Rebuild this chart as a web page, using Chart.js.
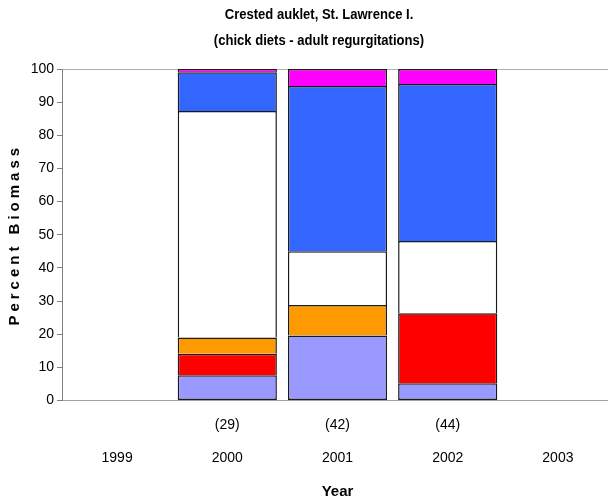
<!DOCTYPE html>
<html>
<head>
<meta charset="utf-8">
<title>Crested auklet, St. Lawrence I.</title>
<script src="https://cdn.jsdelivr.net/npm/chart.js@4/dist/chart.umd.min.js"></script>
<style>
  html, body { margin: 0; padding: 0; background: #fff; overflow: hidden; }
  #wrap { width: 608px; height: 503px; overflow: hidden; }
  canvas { display: block; }
</style>
</head>
<body>
<div id="wrap"><canvas id="chart" width="614" height="503"></canvas></div>
<script>
'use strict';

// ── Data (percent biomass) ──
const years = ['1999', '2000', '2001', '2002', '2003'];
const sampleSizes = ['', '(29)', '(42)', '(44)', ''];
const seriesA = [null, 7.6, 19.6, 5.2, null];   // lavender
const seriesB = [null, 6.5, null, 21.1, null];  // red
const seriesC = [null, 4.9, 9.2, null, null];   // orange
const seriesD = [null, 68.3, 16.2, 21.8, null]; // white
const seriesE = [null, 11.7, 49.9, 47.4, null]; // blue
const seriesF = [null, 1.0, 5.1, 4.5, null];    // magenta
const yTicks = [0, 10, 20, 30, 40, 50, 60, 70, 80, 90, 100];

const FONT = "'Liberation Sans', Arial, sans-serif";
const TITLE_LINES = ['Crested auklet, St. Lawrence I.', '(chick diets - adult regurgitations)'];
const Y_TITLE = 'Percent Biomass';

const COLORS = {
  lavender: '#9999FF',
  red:      '#FF0000',
  orange:   '#FF9900',
  white:    '#FFFFFF',
  blue:     '#3366FF',
  magenta:  '#FF00FF',
};

function seg(label, data, color, skip) {
  return {
    label: label,
    data: data,
    backgroundColor: color,
    borderColor: '#1a1a1a',
    borderWidth: 1.5,
    borderSkipped: skip,
    barPercentage: 0.9,
    categoryPercentage: 1.0,
  };
}

// ── Title (narrowed like the original) + letter-spaced y title ──
const textPlugin = {
  id: 'textPlugin',
  afterDraw(chart) {
    const ctx = chart.ctx;
    const area = chart.chartArea;
    ctx.save();
    ctx.fillStyle = '#000';
    ctx.textAlign = 'center';
    ctx.textBaseline = 'middle';
    ctx.font = 'bold 15px ' + FONT;
    [15, 41].forEach((y, i) => {
      ctx.save();
      ctx.translate(319, y);
      ctx.scale(0.87, 1);
      ctx.fillText(TITLE_LINES[i], 0, 0);
      ctx.restore();
    });

    ctx.translate(15, (area.top + area.bottom) / 2);
    ctx.rotate(-Math.PI / 2);
    if ('letterSpacing' in ctx) ctx.letterSpacing = '4px';
    ctx.fillText(Y_TITLE, 0, 0);
    ctx.restore();
  },
};

new Chart(document.getElementById('chart'), {
  type: 'bar',
  data: {
    labels: years.map((y, i) => [sampleSizes[i], y]),
    datasets: [
      seg('Series 1', seriesA, COLORS.lavender, false),
      seg('Series 2', seriesB, COLORS.red, 'start'),
      seg('Series 3', seriesC, COLORS.orange, 'start'),
      seg('Series 4', seriesD, COLORS.white, 'start'),
      seg('Series 5', seriesE, COLORS.blue, 'start'),
      seg('Series 6', seriesF, COLORS.magenta, 'start'),
    ],
  },
  options: {
    responsive: false,
    animation: false,
    layout: { padding: { top: 69, right: 1, left: 0, bottom: 0 } },
    plugins: {
      legend: { display: false },
      tooltip: { enabled: false },
      title: { display: false },
    },
    scales: {
      x: {
        stacked: true,
        grid: { display: true, drawOnChartArea: false, drawTicks: false },
        border: { display: true, color: '#A0A0A0', width: 1 },
        ticks: {
          color: '#000',
          font: { family: FONT, size: 14, lineHeight: 2.3 },
          padding: 9,
          maxRotation: 0,
          autoSkip: false,
        },
        title: {
          display: true,
          text: 'Year',
          color: '#000',
          font: { family: FONT, size: 15, weight: 'bold', lineHeight: 1.2 },
          padding: { top: 0, bottom: 2 },
        },
        afterFit(s) { s.height = 102.5; },
      },
      y: {
        stacked: true,
        min: 0,
        max: 100,
        afterBuildTicks(s) { s.ticks = yTicks.map((v) => ({ value: v })); },
        grid: {
          drawOnChartArea: true,
          drawTicks: true,
          tickLength: 5,
          color: (c) => (c.tick && c.tick.value === 100 ? '#B0B0B0' : 'rgba(0,0,0,0)'),
          tickColor: '#808080',
        },
        border: { display: true, color: '#808080', width: 1 },
        ticks: {
          color: '#000',
          font: { family: FONT, size: 14 },
          padding: 3,
        },
        title: { display: false },
        afterFit(s) { s.width = 62; },
      },
    },
  },
  plugins: [textPlugin],
});
</script>
</body>
</html>
